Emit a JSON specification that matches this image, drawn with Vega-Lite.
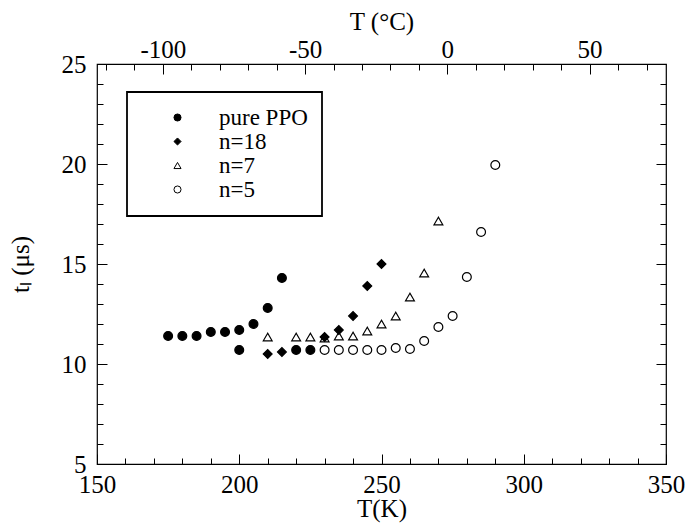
{
  "$schema": "https://vega.github.io/schema/vega-lite/v6.json",
  "width": 569,
  "height": 400,
  "autosize": "none",
  "padding": {"left": 97, "top": 64, "right": 19, "bottom": 61},
  "background": "white",
  "config": {
    "view": {"stroke": "black", "strokeWidth": 1.2},
    "font": "Liberation Serif",
    "axis": {
      "grid": false,
      "domain": false,
      "tickColor": "black",
      "tickWidth": 1,
      "labelFont": "Liberation Serif",
      "labelFontSize": 25,
      "labelColor": "black",
      "titleFont": "Liberation Serif",
      "titleFontSize": 25,
      "titleFontWeight": "normal",
      "titleColor": "black"
    },
    "legend": {
      "orient": "none",
      "strokeColor": "black",
      "strokeWidth": 1.8,
      "fillColor": "white",
      "padding": 14,
      "symbolOffset": 25,
      "labelOffset": 30,
      "labelFont": "Liberation Serif",
      "labelFontSize": 23,
      "labelColor": "black",
      "rowPadding": 0,
      "symbolSize": 50,
      "symbolStrokeColor": "black",
      "symbolStrokeWidth": 1
    }
  },
  "data": {
    "values": [
      {"T": 175, "t": 11.4, "s": "pure PPO"},
      {"T": 180, "t": 11.4, "s": "pure PPO"},
      {"T": 185, "t": 11.4, "s": "pure PPO"},
      {"T": 190, "t": 11.6, "s": "pure PPO"},
      {"T": 195, "t": 11.6, "s": "pure PPO"},
      {"T": 200, "t": 11.7, "s": "pure PPO"},
      {"T": 200, "t": 10.7, "s": "pure PPO"},
      {"T": 205, "t": 12.0, "s": "pure PPO"},
      {"T": 210, "t": 12.8, "s": "pure PPO"},
      {"T": 215, "t": 14.3, "s": "pure PPO"},
      {"T": 220, "t": 10.7, "s": "pure PPO"},
      {"T": 225, "t": 10.7, "s": "pure PPO"},
      {"T": 210, "t": 10.5, "s": "n=18"},
      {"T": 215, "t": 10.6, "s": "n=18"},
      {"T": 230, "t": 11.35, "s": "n=18"},
      {"T": 235, "t": 11.7, "s": "n=18"},
      {"T": 240, "t": 12.4, "s": "n=18"},
      {"T": 245, "t": 13.9, "s": "n=18"},
      {"T": 250, "t": 15.0, "s": "n=18"},
      {"T": 210, "t": 11.35, "s": "n=7"},
      {"T": 220, "t": 11.35, "s": "n=7"},
      {"T": 225, "t": 11.35, "s": "n=7"},
      {"T": 230, "t": 11.3, "s": "n=7"},
      {"T": 235, "t": 11.4, "s": "n=7"},
      {"T": 240, "t": 11.4, "s": "n=7"},
      {"T": 245, "t": 11.65, "s": "n=7"},
      {"T": 250, "t": 12.0, "s": "n=7"},
      {"T": 255, "t": 12.4, "s": "n=7"},
      {"T": 260, "t": 13.35, "s": "n=7"},
      {"T": 265, "t": 14.55, "s": "n=7"},
      {"T": 270, "t": 17.15, "s": "n=7"},
      {"T": 230, "t": 10.7, "s": "n=5"},
      {"T": 235, "t": 10.7, "s": "n=5"},
      {"T": 240, "t": 10.7, "s": "n=5"},
      {"T": 245, "t": 10.7, "s": "n=5"},
      {"T": 250, "t": 10.7, "s": "n=5"},
      {"T": 255, "t": 10.8, "s": "n=5"},
      {"T": 260, "t": 10.75, "s": "n=5"},
      {"T": 265, "t": 11.15, "s": "n=5"},
      {"T": 270, "t": 11.85, "s": "n=5"},
      {"T": 275, "t": 12.4, "s": "n=5"},
      {"T": 280, "t": 14.35, "s": "n=5"},
      {"T": 285, "t": 16.6, "s": "n=5"},
      {"T": 290, "t": 19.95, "s": "n=5"}
    ]
  },
  "layer": [
    {
      "mark": {"type": "point", "filled": true, "strokeWidth": 1.2, "opacity": 1, "size": 78},
      "encoding": {
        "x": {
          "field": "T", "type": "quantitative",
          "scale": {"domain": [150, 350], "nice": false, "zero": false},
          "axis": {"orient": "bottom", "values": [150, 200, 250, 300, 350], "tickSize": -10, "labelPadding": 18, "title": "T(K)", "titlePadding": -1, "labelFlush": false}
        },
        "y": {
          "field": "t", "type": "quantitative",
          "scale": {"domain": [5, 25], "nice": false, "zero": false},
          "axis": {"orient": "left", "values": [5, 10, 15, 20, 25], "tickSize": -10, "labelPadding": 21, "title": "tₗ (μs)", "titlePadding": 28, "labelFlush": false}
        },
        "shape": {
          "field": "s", "type": "nominal",
          "scale": {"domain": ["pure PPO", "n=18", "n=7", "n=5"], "range": ["circle", "diamond", "triangle-up", "circle"]},
          "legend": {"title": null, "orient": "none", "legendX": 30, "legendY": 28}
        },
        "fill": {
          "field": "s", "type": "nominal",
          "scale": {"domain": ["pure PPO", "n=18", "n=7", "n=5"], "range": ["black", "black", "transparent", "transparent"]},
          "legend": {"title": null, "orient": "none", "legendX": 30, "legendY": 28}
        },
        "stroke": {
          "field": "s", "type": "nominal",
          "scale": {"domain": ["pure PPO", "n=18", "n=7", "n=5"], "range": ["black", "black", "black", "black"]},
          "legend": {"title": null, "orient": "none", "legendX": 30, "legendY": 28}
        }
      }
    },
    {
      "mark": {"type": "point", "opacity": 0, "clip": true},
      "encoding": {
        "x": {
          "field": "T", "type": "quantitative",
          "scale": {"domain": [150, 350], "nice": false, "zero": false},
          "axis": {"orient": "bottom", "values": [160, 170, 180, 190, 210, 220, 230, 240, 260, 270, 280, 290, 310, 320, 330, 340], "tickSize": -6, "labels": false, "title": null}
        },
        "y": {
          "field": "t", "type": "quantitative",
          "scale": {"domain": [5, 25], "nice": false, "zero": false},
          "axis": {"orient": "left", "values": [6, 7, 8, 9, 11, 12, 13, 14, 16, 17, 18, 19, 21, 22, 23, 24], "tickSize": -6, "labels": false, "title": null}
        }
      }
    },
    {
      "mark": {"type": "point", "opacity": 0, "clip": true},
      "encoding": {
        "x": {
          "field": "T", "type": "quantitative",
          "scale": {"domain": [-123.15, 76.85], "nice": false, "zero": false},
          "axis": {"orient": "top", "values": [-100, -50, 0, 50], "tickSize": -10, "labelPadding": 12, "labelExpr": "'' + datum.value", "title": "T (°C)", "titlePadding": 3, "labelFlush": false}
        },
        "y": {
          "field": "t", "type": "quantitative",
          "scale": {"domain": [5, 25], "nice": false, "zero": false},
          "axis": {"orient": "right", "values": [5, 10, 15, 20, 25], "tickSize": -10, "labels": false, "title": null}
        }
      }
    },
    {
      "mark": {"type": "point", "opacity": 0, "clip": true},
      "encoding": {
        "x": {
          "field": "T", "type": "quantitative",
          "scale": {"domain": [-123.15, 76.85], "nice": false, "zero": false},
          "axis": {"orient": "top", "values": [-120, -110, -90, -80, -70, -60, -40, -30, -20, -10, 10, 20, 30, 40, 60, 70], "tickSize": -6, "labels": false, "title": null}
        },
        "y": {
          "field": "t", "type": "quantitative",
          "scale": {"domain": [5, 25], "nice": false, "zero": false},
          "axis": {"orient": "right", "values": [6, 7, 8, 9, 11, 12, 13, 14, 16, 17, 18, 19, 21, 22, 23, 24], "tickSize": -6, "labels": false, "title": null}
        }
      }
    }
  ],
  "resolve": {"scale": {"x": "independent", "y": "independent"}}
}
